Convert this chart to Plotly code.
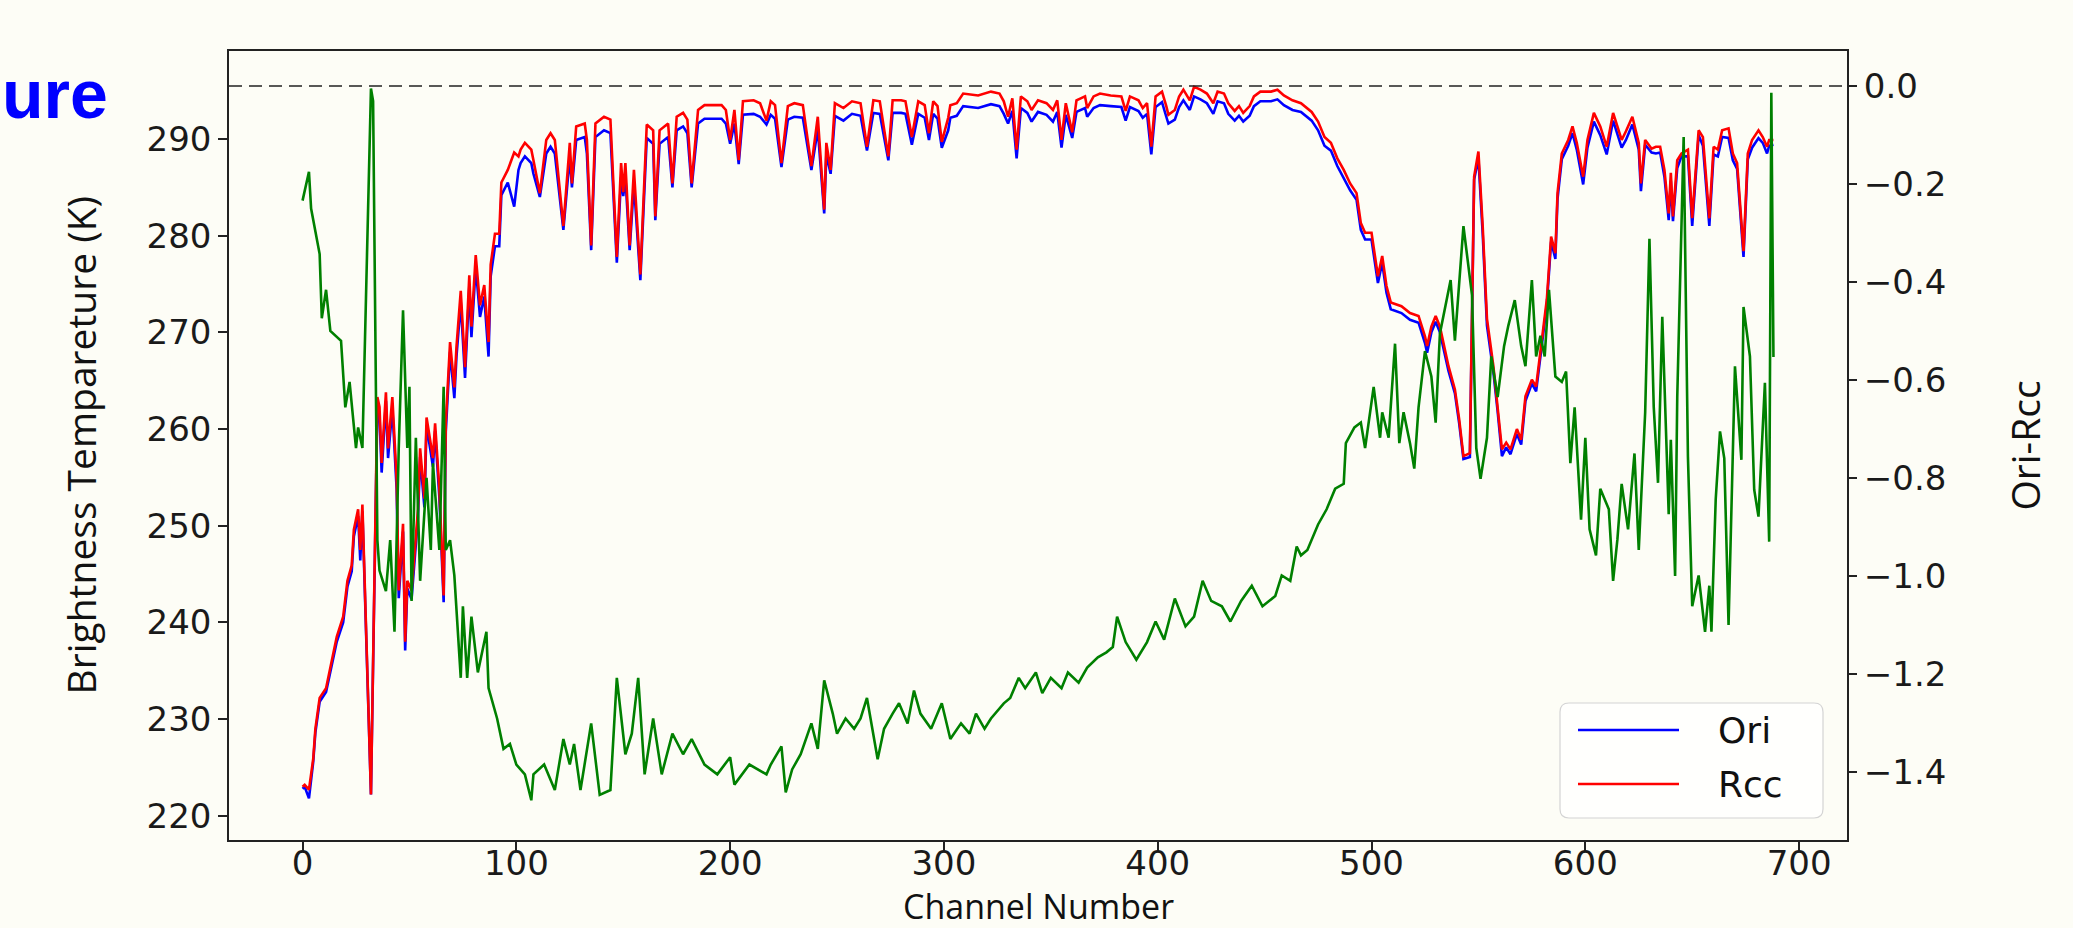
import plotly.graph_objects as go

# ---------------- data ----------------
ch_bt = [0, 1, 3, 5, 6, 8, 11, 13, 16, 19,
         21, 23, 24, 26, 27, 28, 32, 35, 36, 37,
         39, 40, 42, 44, 45, 47, 48, 49, 51, 54,
         55, 57, 58, 61, 62, 64, 66, 67, 69, 71,
         72, 74, 76, 78, 79, 81, 83, 85, 87, 88,
         90, 92, 93, 96, 99, 101, 102, 104, 107, 108,
         111, 114, 116, 118, 122, 125, 126, 128, 132, 133,
         135, 137, 141, 144, 147, 149, 150, 151, 153, 155,
         158, 161, 164, 165, 167, 171, 173, 175, 178, 180,
         182, 185, 188, 196, 198, 200, 202, 204, 206, 211,
         214, 217, 219, 221, 224, 227, 230, 234, 238, 241,
         244, 245, 247, 249, 253, 257, 261, 264, 267, 270,
         274, 276, 280, 282, 285, 288, 291, 293, 295, 297,
         299, 302, 303, 306, 309, 316, 322, 326, 328, 330,
         332, 334, 336, 339, 341, 344, 348, 351, 353, 355,
         357, 360, 362, 366, 367, 370, 373, 378, 383, 385,
         387, 391, 393, 395, 397, 399, 402, 404, 405, 408,
         410, 412, 415, 417, 420, 423, 426, 428, 431, 433,
         436, 438, 440, 443, 445, 448, 453, 456, 459, 463,
         467, 472, 475, 478, 481, 484, 487, 490, 493, 495,
         497, 500, 503, 505, 507, 509, 514, 518, 522, 525,
         526, 528, 530, 532, 536, 539, 541, 543, 546, 548,
         550, 552, 554, 557, 559, 561, 563, 565, 568, 570,
         572, 575, 577, 579, 582, 584, 586, 587, 589, 592,
         594, 596, 599, 601, 604, 607, 610, 613, 617, 619,
         622, 625, 626, 628, 631, 633, 635, 637, 639, 640,
         641, 643, 645, 648, 650, 653, 655, 658, 660, 662,
         664, 667, 669, 671, 674, 676, 678, 681, 683, 685,
         686, 688]

rcc_bt = [223.0, 223.2, 222.7, 225.9, 229.0, 232.2, 233.2, 235.3, 238.5, 240.6,
          244.3, 245.9, 249.6, 251.7, 247.5, 252.2, 222.2, 263.3, 262.3, 256.5,
          263.8, 258.0, 263.3, 254.8, 243.3, 250.2, 238.0, 244.3, 243.3, 251.7,
          258.0, 252.8, 261.2, 257.0, 260.6, 253.8, 242.8, 260.6, 269.0, 264.3,
          268.5, 274.3, 266.4, 275.9, 270.6, 278.0, 272.8, 274.9, 269.0, 277.0,
          280.2, 280.2, 285.5, 286.8, 288.6, 288.2, 288.9, 289.6, 288.9, 287.8,
          284.4, 289.9, 290.6, 289.9, 281.0, 289.6, 285.4, 291.3, 291.6, 289.9,
          279.0, 291.6, 292.3, 292.0, 277.8, 287.5, 284.5, 287.5, 279.0, 286.8,
          276.0, 291.5, 290.9, 282.0, 290.9, 291.6, 285.4, 292.3, 292.7, 292.0,
          285.4, 293.0, 293.5, 293.5, 293.0, 289.9, 293.0, 287.8, 293.9, 294.0,
          293.7, 291.9, 293.9, 293.5, 287.5, 293.4, 293.7, 293.5, 287.2, 292.3,
          282.7, 289.6, 286.8, 293.7, 293.2, 293.9, 293.7, 289.2, 294.0, 293.9,
          288.2, 294.0, 294.0, 293.9, 290.2, 293.9, 293.5, 290.6, 293.9, 293.4,
          289.7, 292.2, 293.5, 293.7, 294.7, 294.5, 294.9, 294.7, 293.9, 292.3,
          294.2, 288.9, 294.4, 293.9, 293.0, 294.0, 293.7, 293.0, 294.0, 289.9,
          293.7, 290.7, 294.0, 294.4, 293.2, 294.4, 294.7, 294.5, 294.4, 292.9,
          294.4, 294.0, 293.2, 293.7, 289.2, 294.4, 294.9, 293.4, 292.5, 293.0,
          294.4, 295.1, 294.0, 295.4, 295.1, 294.7, 293.7, 294.9, 294.7, 293.7,
          292.9, 293.4, 292.7, 293.4, 294.4, 294.9, 294.9, 295.1, 294.5, 294.0,
          293.7, 292.8, 291.8, 290.2, 289.6, 288.0, 286.8, 285.4, 284.4, 281.3,
          280.3, 280.3, 275.8, 277.9, 274.8, 273.1, 272.7, 272.0, 271.7, 269.6,
          268.6, 270.6, 271.7, 270.6, 266.5, 264.1, 261.0, 257.2, 257.5, 286.1,
          288.7, 281.0, 271.4, 266.5, 262.4, 257.9, 258.6, 257.9, 260.0, 258.9,
          263.4, 265.1, 264.4, 267.9, 273.4, 279.9, 278.2, 284.4, 288.5, 289.9,
          291.3, 289.6, 286.1, 289.9, 292.7, 291.3, 289.2, 292.7, 289.9, 290.8,
          292.3, 289.6, 285.4, 289.9, 289.0, 289.2, 289.2, 286.8, 282.3, 286.5,
          282.0, 287.8, 288.5, 288.9, 281.8, 290.9, 290.2, 281.8, 289.2, 288.9,
          290.9, 291.1, 288.5, 287.5, 278.4, 288.5, 289.9, 290.9, 290.2, 289.2,
          289.9, 289.9]

ori_bt = [222.8, 223.0, 221.8, 225.6, 228.6, 231.8, 232.8, 234.8, 238.0, 240.0,
          243.7, 245.3, 248.9, 251.0, 246.4, 251.5, 222.2, 262.4, 261.3, 255.5,
          262.9, 257.0, 262.2, 253.8, 242.5, 249.4, 237.1, 243.5, 242.4, 250.9,
          257.1, 251.9, 260.4, 256.1, 259.8, 252.9, 242.1, 259.7, 268.0, 263.2,
          267.5, 273.1, 265.3, 274.7, 269.5, 276.8, 271.6, 273.7, 267.5, 275.8,
          278.9, 278.9, 284.2, 285.5, 283.0, 286.8, 287.5, 288.2, 287.5, 286.4,
          284.0, 288.5, 289.2, 288.5, 280.6, 288.2, 285.0, 289.9, 290.2, 288.5,
          278.5, 290.2, 290.9, 290.6, 277.2, 286.1, 284.1, 286.1, 278.5, 285.4,
          275.4, 290.1, 289.5, 281.6, 289.5, 290.2, 285.0, 290.9, 291.3, 290.6,
          285.0, 291.6, 292.1, 292.1, 291.6, 289.5, 291.6, 287.4, 292.5, 292.6,
          292.3, 291.5, 292.5, 292.1, 287.1, 292.0, 292.3, 292.2, 286.8, 291.0,
          282.3, 288.4, 286.4, 292.4, 291.9, 292.6, 292.4, 288.8, 292.7, 292.6,
          287.8, 292.7, 292.7, 292.6, 289.4, 292.6, 292.2, 289.9, 292.6, 292.1,
          289.1, 290.9, 292.2, 292.4, 293.4, 293.2, 293.6, 293.4, 292.6, 291.6,
          292.9, 288.0, 293.2, 292.7, 291.8, 292.8, 292.5, 291.8, 292.8, 289.1,
          292.5, 290.1, 292.8, 293.2, 292.3, 293.2, 293.5, 293.4, 293.3, 291.9,
          293.3, 292.9, 292.2, 292.6, 288.4, 293.3, 293.8, 292.3, 291.6, 292.0,
          293.3, 294.0, 293.0, 294.4, 294.1, 293.7, 292.6, 293.9, 293.7, 292.6,
          291.9, 292.4, 291.8, 292.4, 293.4, 293.9, 293.9, 294.1, 293.5, 293.0,
          292.8, 291.9, 290.9, 289.3, 288.8, 287.2, 286.0, 284.7, 283.7, 280.6,
          279.6, 279.6, 275.1, 277.2, 274.1, 272.4, 272.0, 271.3, 271.0, 268.9,
          267.9, 270.0, 271.1, 270.0, 266.0, 263.7, 260.6, 256.9, 257.1, 285.8,
          288.0, 280.2, 270.7, 265.9, 261.8, 257.2, 258.1, 257.4, 259.5, 258.4,
          262.9, 264.7, 263.9, 267.4, 272.9, 279.4, 277.6, 283.8, 287.9, 289.3,
          290.6, 288.9, 285.3, 289.1, 291.8, 290.4, 288.4, 291.9, 289.1, 289.9,
          291.5, 288.9, 284.6, 289.4, 288.6, 288.5, 288.6, 286.1, 281.6, 285.7,
          281.5, 287.0, 288.2, 288.2, 281.0, 290.4, 289.3, 281.0, 288.4, 288.2,
          290.2, 290.1, 287.8, 286.9, 277.8, 287.9, 289.1, 290.1, 289.6, 288.5,
          289.3, 289.4]

ch_diff = [0, 3, 4, 8, 9, 11, 13, 18, 20, 22, 25, 26, 28, 32, 33, 35, 36, 39, 41, 43,
           45, 47, 49, 50, 51, 53, 55, 58, 60, 61, 64, 66, 67, 69, 71, 74, 75, 77, 79, 82,
           86, 87, 91, 94, 97, 100, 104, 107, 108, 113, 118, 122, 125, 127, 130, 135, 139, 144, 147, 151,
           154, 157, 160, 164, 168, 173, 178, 182, 188, 194, 200, 202, 209, 217, 219, 224, 226, 229, 233, 238,
           241, 244, 248, 250, 254, 258, 261, 264, 269, 272, 276, 279, 283, 286, 289, 294, 299, 303, 308, 312,
           315, 319, 322, 328, 331, 335, 338, 343, 346, 350, 355, 358, 363, 367, 372, 376, 379, 381, 385, 390,
           395, 399, 403, 408, 413, 417, 421, 425, 430, 434, 439, 444, 449, 455, 458, 462, 465, 467, 470, 475,
           479, 483, 487, 488, 492, 495, 497, 501, 504, 505, 508, 511, 513, 515, 518, 520, 522, 525, 528, 530,
           532, 537, 539, 543, 547, 549, 551, 554, 556, 559, 562, 564, 567, 570, 572, 575, 577, 579, 581, 583,
           586, 589, 591, 593, 595, 598, 600, 602, 605, 607, 611, 613, 615, 617, 620, 623, 625, 628, 630, 632,
           634, 636, 639, 640, 642, 643, 646, 648, 650, 653, 656, 658, 659, 661, 663, 665, 667, 670, 673, 674,
           677, 679, 681, 684, 686, 687, 688]

ori_minus_rcc = [-0.234, -0.175, -0.25, -0.343, -0.474, -0.416, -0.50, -0.52, -0.656, -0.604,
                 -0.739, -0.697, -0.739, -0.005, -0.031, -0.927, -0.989, -1.031, -0.927, -1.114,
                 -0.739, -0.458, -0.739, -0.614, -1.051, -0.718, -1.01, -0.80, -0.947, -0.77,
                 -0.947, -0.614, -0.947, -0.927, -0.999, -1.208, -1.062, -1.208, -1.083, -1.197,
                 -1.114, -1.229, -1.291, -1.353, -1.343, -1.385, -1.405, -1.458, -1.405, -1.385,
                 -1.437, -1.333, -1.385, -1.343, -1.437, -1.301, -1.447, -1.437, -1.208, -1.364,
                 -1.322, -1.208, -1.405, -1.291, -1.405, -1.322, -1.364, -1.333, -1.385, -1.405,
                 -1.37, -1.426, -1.385, -1.405, -1.385, -1.348, -1.442, -1.395, -1.364, -1.301,
                 -1.353, -1.213, -1.281, -1.322, -1.291, -1.312, -1.291, -1.249, -1.374, -1.312,
                 -1.281, -1.260, -1.301, -1.234, -1.281, -1.312, -1.260, -1.333, -1.301, -1.322,
                 -1.281, -1.312, -1.291, -1.260, -1.249, -1.208, -1.229, -1.197, -1.239, -1.208,
                 -1.229, -1.197, -1.218, -1.187, -1.166, -1.156, -1.145, -1.083, -1.135, -1.171,
                 -1.135, -1.093, -1.130, -1.046, -1.103, -1.083, -1.010, -1.051, -1.062, -1.093,
                 -1.051, -1.020, -1.062, -1.041, -0.999, -1.01, -0.94, -0.958, -0.947, -0.895,
                 -0.864, -0.822, -0.812, -0.729, -0.697, -0.687, -0.739, -0.614, -0.718, -0.666,
                 -0.718, -0.526, -0.729, -0.666, -0.729, -0.781, -0.656, -0.541, -0.593, -0.687,
                 -0.505, -0.396, -0.520, -0.286, -0.427, -0.739, -0.802, -0.718, -0.552, -0.635,
                 -0.531, -0.489, -0.437, -0.531, -0.572, -0.396, -0.552, -0.51, -0.552, -0.416,
                 -0.593, -0.604, -0.583, -0.77, -0.656, -0.885, -0.718, -0.905, -0.958, -0.822,
                 -0.864, -1.01, -0.926, -0.812, -0.905, -0.75, -0.947, -0.666, -0.312, -0.655,
                 -0.81, -0.471, -0.874, -0.722, -1.0, -0.635, -0.104, -0.757, -1.062, -0.999,
                 -1.114, -1.02, -1.114, -0.843, -0.705, -0.76, -1.1, -0.572, -0.763, -0.451,
                 -0.552, -0.824, -0.879, -0.606, -0.93, -0.014, -0.553]

x_ticks = [0, 100, 200, 300, 400, 500, 600, 700]
y_ticks = [220, 230, 240, 250, 260, 270, 280, 290]
y2_ticks = [0.0, -0.2, -0.4, -0.6, -0.8, -1.0, -1.2, -1.4]

x_range = [-34.4, 722.4]
y_range = [217.5, 299.1]
y2_range = [-1.539, 0.0714]

legend_names = ["Ori", "Rcc"]
legend_colors = ["#0000ff", "#ff0000"]

# ---------------- figure ----------------
W, H = 2073, 928
L, R, T, B = 229, 226, 51, 88
PW, PH = W - L - R, H - T - B

def px_x(p):
    return (p - L) / PW

def px_y(p):
    return (H - B - p) / PH

BG = "#fdfdf6"
AX = "#222222"
TICKFONT = dict(family="DejaVu Sans", size=34, color="#1a1a1a")
LABELFONT = dict(family="Open Sans", size=34, color="#111111")
LW = 2.6

fig = go.Figure()
fig.add_trace(go.Scatter(x=ch_bt, y=ori_bt, mode="lines", name="Ori",
                         line=dict(color="#0000ff", width=LW), showlegend=False))
fig.add_trace(go.Scatter(x=ch_bt, y=rcc_bt, mode="lines", name="Rcc",
                         line=dict(color="#ff0000", width=LW), showlegend=False))
fig.add_trace(go.Scatter(x=ch_diff, y=ori_minus_rcc, mode="lines", name="Ori-Rcc",
                         line=dict(color="#008000", width=LW),
                         xaxis="x2", yaxis="y2", showlegend=False))

axis_common = dict(showgrid=False, zeroline=False, ticks="outside", ticklen=9,
                   tickwidth=1.5, tickcolor=AX, tickfont=TICKFONT)

fig.update_layout(
    width=W, height=H,
    margin=dict(l=L, r=R, t=T, b=B, pad=0),
    paper_bgcolor=BG, plot_bgcolor=BG,
    showlegend=False,
    # x axis: frame + tick marks
    xaxis=dict(range=x_range, tickmode="array", tickvals=x_ticks,
               showline=True, linecolor=AX, linewidth=1.5, mirror=True,
               showticklabels=False, **axis_common),
    # overlaid x axis carrying the tick labels (closer to the frame)
    xaxis2=dict(range=x_range, matches="x", overlaying="x", side="bottom",
                anchor="y2", tickmode="array", tickvals=x_ticks,
                ticks="", showline=False, showgrid=False, zeroline=False,
                tickfont=TICKFONT),
    yaxis=dict(range=y_range, tickmode="array", tickvals=y_ticks,
               showline=True, linecolor=AX, linewidth=1.5, mirror=True,
               **axis_common),
    yaxis2=dict(range=y2_range, tickmode="array", tickvals=y2_ticks,
                tickformat=".1f", overlaying="y", side="right", anchor="x2",
                showline=False, **axis_common),
)

# zero reference line on the right axis
fig.add_shape(type="line", xref="paper", x0=0, x1=1, yref="y2", y0=0, y1=0,
              line=dict(color="#222222", width=1.6, dash="13px,7px"), layer="above")

# axis titles
fig.add_annotation(text="Channel Number", xref="paper", yref="paper",
                   x=0.5, y=px_y(906), xanchor="center", yanchor="middle",
                   showarrow=False, font=LABELFONT)
fig.add_annotation(text="Brightness Tempareture (K)", xref="paper", yref="paper",
                   x=px_x(80), y=0.5, xanchor="center", yanchor="middle",
                   textangle=-90, showarrow=False, font=dict(LABELFONT, size=39))
fig.add_annotation(text="Ori-Rcc", xref="paper", yref="paper",
                   x=px_x(2024), y=0.5, xanchor="center", yanchor="middle",
                   textangle=-90, showarrow=False, font=dict(LABELFONT, size=39))

# legend box (matplotlib style)
bx0, bx1 = px_x(1560), px_x(1823)
by0, by1 = px_y(818), px_y(703)
rx, ry = 9 / PW, 9 / PH
path = (f"M {bx0+rx},{by0} L {bx1-rx},{by0} Q {bx1},{by0} {bx1},{by0+ry} "
        f"L {bx1},{by1-ry} Q {bx1},{by1} {bx1-rx},{by1} L {bx0+rx},{by1} "
        f"Q {bx0},{by1} {bx0},{by1-ry} L {bx0},{by0+ry} Q {bx0},{by0} {bx0+rx},{by0} Z")
fig.add_shape(type="path", path=path, xref="paper", yref="paper",
              fillcolor="rgba(255,255,255,0.8)", line=dict(color="#d4d4d4", width=1.2),
              layer="above")
for name, color, yp in zip(legend_names, legend_colors, [730, 784]):
    fig.add_shape(type="line", xref="paper", yref="paper",
                  x0=px_x(1578), x1=px_x(1679), y0=px_y(yp), y1=px_y(yp),
                  line=dict(color=color, width=LW), layer="above")
    fig.add_annotation(text=name, xref="paper", yref="paper",
                       x=px_x(1716), y=px_y(yp), xanchor="left", yanchor="middle",
                       showarrow=False,
                       font=dict(family="DejaVu Sans", size=36, color="#111111"))

# fragment of the slide title visible at top-left
fig.add_annotation(text="<b>ure</b>", xref="paper", yref="paper",
                   x=px_x(0), y=px_y(94), xanchor="left", yanchor="middle",
                   showarrow=False,
                   font=dict(family="Liberation Sans", size=68, color="#0000ff"))

fig.write_html("out.html")
